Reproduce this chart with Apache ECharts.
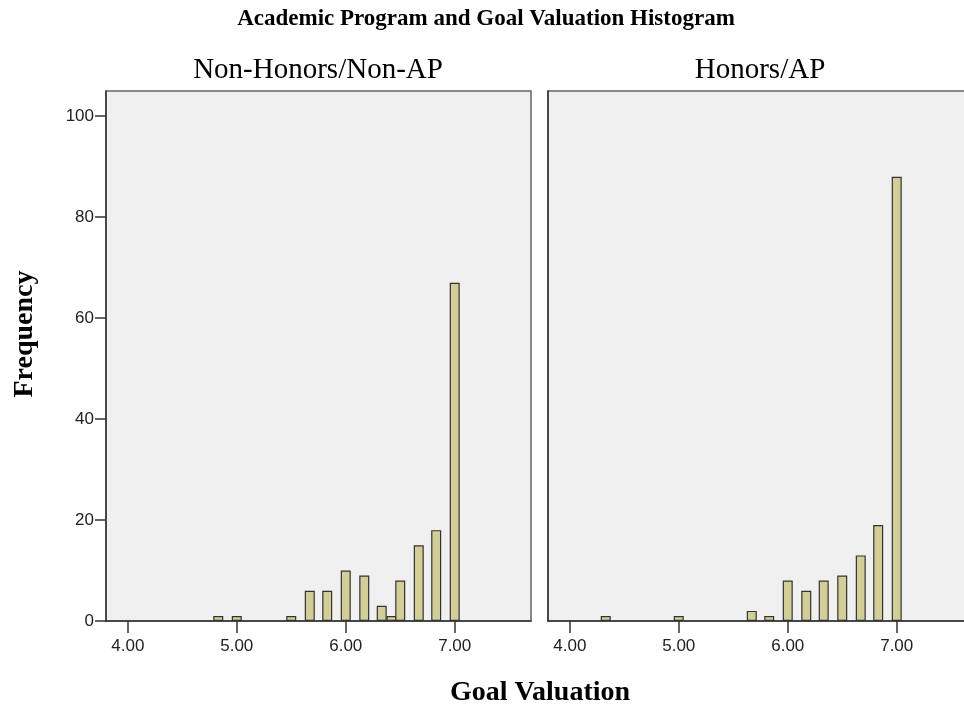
<!DOCTYPE html>
<html lang="en">
  <head>
    <meta charset="utf-8" />
    <title>Academic Program and Goal Valuation Histogram</title>
    <script src="https://cdn.jsdelivr.net/npm/echarts@6/dist/echarts.min.js"></script>
    <style>
      html, body { margin: 0; padding: 0; background: #fff; }
      #main { width: 964px; height: 704px; }
    </style>
  </head>
  <body>
    <div id="main"></div>
  </body>
  <script>
    // panel data: goal valuation score -> frequency
    let nonHonorsX = [4.83, 5.00, 5.50, 5.67, 5.83, 6.00, 6.17, 6.33, 6.42, 6.50, 6.67, 6.83, 7.00];
    let nonHonorsFreq = [1, 1, 1, 6, 6, 10, 9, 3, 1, 8, 15, 18, 67];
    let honorsX = [4.33, 5.00, 5.67, 5.83, 6.00, 6.17, 6.33, 6.50, 6.67, 6.83, 7.00];
    let honorsFreq = [1, 1, 2, 1, 8, 6, 8, 9, 13, 19, 88];
    let xTicks = [4, 5, 6, 7];
    let yTicks = [0, 20, 40, 60, 80, 100];
    let panelTitles = ['Non-Honors/Non-AP', 'Honors/AP'];

    let serif = '"Liberation Serif", "Times New Roman", serif';
    let sans = '"Liberation Sans", Arial, sans-serif';

    function pairs(xs, ys) {
        return xs.map((x, i) => [x, ys[i]]);
    }

    // right panel runs past the edge of the picture, like the original
    let grids = [
        {left: 106, top: 91, width: 425, height: 530},
        {left: 548, top: 91, width: 425, height: 530}
    ];

    let chart = echarts.init(document.getElementById('main'));
    let option = {
        backgroundColor: '#fff',
        animation: false,
        title: [
            {
                text: 'Academic Program and Goal Valuation Histogram',
                left: 486, top: 8, textAlign: 'center', padding: 0,
                textStyle: {fontFamily: serif, fontWeight: 'bold', fontSize: 23, color: '#000'}
            },
            {
                text: panelTitles[0],
                left: 318, top: 56, textAlign: 'center', padding: 0,
                textStyle: {fontFamily: serif, fontWeight: 'normal', fontSize: 29, color: '#000'}
            },
            {
                text: panelTitles[1],
                left: 760, top: 56, textAlign: 'center', padding: 0,
                textStyle: {fontFamily: serif, fontWeight: 'normal', fontSize: 29, color: '#000'}
            },
            {
                text: 'Goal Valuation',
                left: 540, top: 679, textAlign: 'center', padding: 0,
                textStyle: {fontFamily: serif, fontWeight: 'bold', fontSize: 28, color: '#000'}
            }
        ],
        graphic: [{
            type: 'text',
            x: 25, y: 334,
            rotation: Math.PI / 2,
            style: {
                text: 'Frequency',
                font: 'bold 28px ' + serif,
                fill: '#000',
                align: 'center',
                verticalAlign: 'middle'
            }
        }],
        grid: grids.map(g => Object.assign({
            show: true,
            outerBoundsMode: 'none',
            containLabel: false,
            backgroundColor: '#f0f0f0',
            borderColor: '#666',
            borderWidth: 1.5
        }, g)),
        xAxis: [0, 1].map(i => ({
            type: 'value',
            gridIndex: i,
            min: 3.8,
            max: 7.7,
            splitLine: {show: false},
            axisLine: {lineStyle: {color: '#333', width: 1.5}},
            axisTick: {customValues: xTicks, length: 12, lineStyle: {color: '#333', width: 1.5}},
            axisLabel: {
                customValues: xTicks,
                margin: 17,
                fontFamily: sans,
                fontSize: 17,
                color: '#222',
                formatter: v => v.toFixed(2)
            }
        })),
        yAxis: [
            {
                type: 'value',
                gridIndex: 0,
                min: 0,
                max: 105,
                splitLine: {show: false},
                axisLine: {show: true, lineStyle: {color: '#333', width: 1.5}},
                axisTick: {show: true, customValues: yTicks, length: 11, lineStyle: {color: '#333', width: 1.5}},
                axisLabel: {customValues: yTicks, margin: 12, fontFamily: sans, fontSize: 17, color: '#222'}
            },
            {
                type: 'value',
                gridIndex: 1,
                min: 0,
                max: 105,
                splitLine: {show: false},
                axisLine: {show: true, lineStyle: {color: '#333', width: 1.5}},
                axisTick: {show: false},
                axisLabel: {show: false}
            }
        ],
        series: [
            {
                name: panelTitles[0],
                type: 'bar',
                xAxisIndex: 0,
                yAxisIndex: 0,
                barWidth: 10,
                itemStyle: {color: '#d3ce98', borderColor: '#333', borderWidth: 1.2},
                data: pairs(nonHonorsX, nonHonorsFreq)
            },
            {
                name: panelTitles[1],
                type: 'bar',
                xAxisIndex: 1,
                yAxisIndex: 1,
                barWidth: 10,
                itemStyle: {color: '#d3ce98', borderColor: '#333', borderWidth: 1.2},
                data: pairs(honorsX, honorsFreq)
            }
        ]
    };
    chart.setOption(option);
  </script>
</html>
